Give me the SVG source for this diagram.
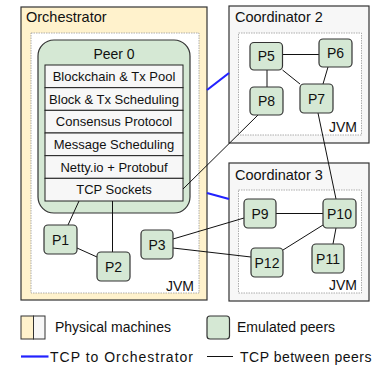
<svg xmlns="http://www.w3.org/2000/svg" width="385" height="370" viewBox="0 0 385 370">
<style>
text{font-family:"Liberation Sans",Arial,sans-serif;fill:#111}
.title{font-size:14.5px}
.jvm{font-size:14px;text-anchor:end}
.row{font-size:13px;text-anchor:middle}
.plabel{font-size:14px;text-anchor:middle}
.leg{font-size:14px}
.machine{stroke:#333;stroke-width:1.2}
.orch{fill:#FFF2CC}
.coord{fill:#F7F7F7}
.vm{fill:#fff;stroke:#999;stroke-width:0.8;stroke-dasharray:1.5 1}
.peer{fill:#D5E8D4;stroke:#333;stroke-width:1.2}
.layer{fill:#F7F7F7;stroke:#222;stroke-width:1}
.link{stroke:#111;stroke-width:1;fill:none}
.tcp{stroke:#2222FF;stroke-width:2.2;fill:none}
</style>
<g id="orchestrator">
<rect class="machine orch" x="21" y="7" width="186" height="293"/>
<text class="title" x="26" y="22">Orchestrator</text>
<rect class="vm" x="31" y="33" width="168" height="260"/>
<text class="jvm" x="194" y="291">JVM</text>
</g>
<g id="coordinator2">
<rect class="machine coord" x="229" y="6" width="140" height="137"/>
<text class="title" x="235" y="22">Coordinator 2</text>
<rect class="vm" x="238.5" y="33" width="123" height="102"/>
<text class="jvm" x="357" y="132">JVM</text>
</g>
<g id="coordinator3">
<rect class="machine coord" x="229" y="163" width="140" height="138"/>
<text class="title" x="235" y="180">Coordinator 3</text>
<rect class="vm" x="238.5" y="190" width="123" height="103"/>
<text class="jvm" x="357" y="290">JVM</text>
</g>
<g id="peer0">
<rect class="peer" x="38" y="40" width="152" height="173" rx="16"/>
<text class="plabel" x="114" y="59">Peer 0</text>
<rect class="layer" x="45" y="65" width="138" height="22.67"/>
<text class="row" x="114" y="81">Blockchain &amp; Tx Pool</text>
<rect class="layer" x="45" y="87.67" width="138" height="22.67"/>
<text class="row" x="114" y="103.5">Block &amp; Tx Scheduling</text>
<rect class="layer" x="45" y="110.33" width="138" height="22.67"/>
<text class="row" x="114" y="126">Consensus Protocol</text>
<rect class="layer" x="45" y="133" width="138" height="22.67"/>
<text class="row" x="114" y="149">Message Scheduling</text>
<rect class="layer" x="45" y="155.67" width="138" height="22.67"/>
<text class="row" x="114" y="171.5">Netty.io + Protobuf</text>
<rect class="layer" x="45" y="178.33" width="138" height="22.67"/>
<text class="row" x="114" y="194">TCP Sockets</text>
</g>
<g id="connectors">
<line class="tcp" x1="207" y1="90" x2="229" y2="73"/>
<line class="tcp" x1="207" y1="193" x2="229" y2="199"/>
<line class="link" x1="79" y1="201" x2="68" y2="225"/>
<line class="link" x1="112.5" y1="201" x2="112.5" y2="252"/>
<line class="link" x1="77" y1="248" x2="97" y2="257"/>
<line class="link" x1="183" y1="189" x2="258" y2="115"/>
<line class="link" x1="282" y1="54.5" x2="319" y2="54.5"/>
<line class="link" x1="267" y1="70" x2="267" y2="87"/>
<line class="link" x1="282.5" y1="70" x2="300" y2="84"/>
<line class="link" x1="328" y1="67" x2="323" y2="84"/>
<line class="link" x1="318" y1="113" x2="336" y2="199"/>
<line class="link" x1="276" y1="213.5" x2="323" y2="213.5"/>
<line class="link" x1="323" y1="225" x2="283" y2="250"/>
<line class="link" x1="336" y1="228" x2="333" y2="244"/>
<line class="link" x1="173" y1="239" x2="244" y2="218"/>
<line class="link" x1="173" y1="248" x2="251" y2="257"/>
</g>
<g id="P1"><rect class="peer" x="44" y="225" width="33" height="29" rx="4"/><text class="plabel" x="60.5" y="244.5">P1</text></g>
<g id="P2"><rect class="peer" x="97" y="252" width="33" height="29" rx="4"/><text class="plabel" x="113.5" y="271.5">P2</text></g>
<g id="P3"><rect class="peer" x="141" y="230" width="32" height="29" rx="4"/><text class="plabel" x="157" y="249.5">P3</text></g>
<g id="P5"><rect class="peer" x="250" y="42.5" width="32.5" height="27.5" rx="4"/><text class="plabel" x="266.3" y="61.3">P5</text></g>
<g id="P6"><rect class="peer" x="319" y="39" width="33" height="28" rx="4"/><text class="plabel" x="335.5" y="58">P6</text></g>
<g id="P7"><rect class="peer" x="300" y="84" width="33" height="29" rx="4"/><text class="plabel" x="316.5" y="103.5">P7</text></g>
<g id="P8"><rect class="peer" x="250" y="87" width="33" height="28" rx="4"/><text class="plabel" x="266.5" y="106">P8</text></g>
<g id="P9"><rect class="peer" x="244" y="199" width="32" height="29" rx="4"/><text class="plabel" x="260" y="218.5">P9</text></g>
<g id="P10"><rect class="peer" x="323" y="199" width="33" height="29" rx="4"/><text class="plabel" x="339.5" y="218.5">P10</text></g>
<g id="P11"><rect class="peer" x="312" y="244" width="32" height="29" rx="4"/><text class="plabel" x="328" y="263.5">P11</text></g>
<g id="P12"><rect class="peer" x="251" y="248" width="32" height="29" rx="4"/><text class="plabel" x="267" y="267.5">P12</text></g>
<g id="legend">
<rect x="21" y="316" width="12.5" height="23" fill="#FFF2CC" stroke="#333" stroke-width="1"/>
<rect x="33.5" y="316" width="11.5" height="23" fill="#F7F7F7" stroke="#333" stroke-width="1"/>
<text class="leg" x="55" y="332">Physical machines</text>
<rect class="peer" x="207" y="316" width="22.5" height="23" rx="3" stroke-width="1"/>
<text class="leg" x="237" y="332">Emulated peers</text>
<line class="tcp" x1="21" y1="356.5" x2="48.5" y2="356.5"/>
<text class="leg" x="50" y="361.5" textLength="143" lengthAdjust="spacing">TCP to Orchestrator</text>
<line class="link" x1="207" y1="356.5" x2="233" y2="356.5"/>
<text class="leg" x="240" y="361.5" textLength="131.5" lengthAdjust="spacing">TCP between peers</text>
</g>
</svg>
